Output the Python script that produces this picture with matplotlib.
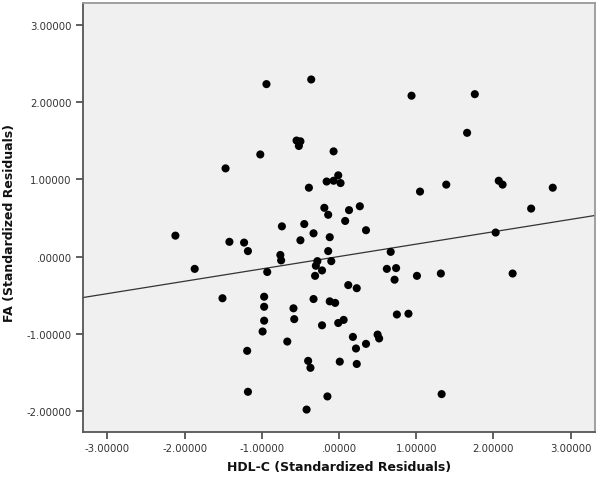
import numpy as np
import matplotlib
matplotlib.use('Agg')
import matplotlib.pyplot as plt

# standardized residuals
hdl_c = [-0.94, -0.36, -0.55, -0.50, -0.52, -1.02, -1.47, -0.07, -0.39, -0.16,
         -0.07, -0.01, 0.02, -0.19, -0.14, 0.94, 1.76, 1.66, 1.05, 1.39,
         2.07, 2.12, 2.77, 2.49, 0.13, 0.27, 0.08, 0.35, -2.12, -1.87,
         -1.42, -1.23, -1.18, -1.51, -0.74, -0.76, -0.75, -0.93, -0.97, -0.97,
         -0.97, -0.99, -1.19, -1.18, -0.67, -0.59, -0.58, -0.45, -0.50, -0.33,
         -0.28, -0.30, -0.22, -0.31, -0.33, -0.22, -0.40, -0.37, -0.42, -0.15,
         -0.12, -0.14, -0.10, -0.12, -0.05, -0.01, 0.06, 0.01, 0.67, 0.62,
         0.74, 0.72, 1.01, 1.32, 2.25, 2.03, 0.12, 0.23, 0.75, 0.90,
         0.18, 0.22, 0.35, 0.50, 0.52, 0.23, 1.33]
fa = [2.23, 2.29, 1.50, 1.49, 1.43, 1.32, 1.14, 1.36, 0.89, 0.97,
      0.98, 1.05, 0.95, 0.63, 0.54, 2.08, 2.10, 1.60, 0.84, 0.93,
      0.98, 0.93, 0.89, 0.62, 0.60, 0.65, 0.46, 0.34, 0.27, -0.16,
      0.19, 0.18, 0.07, -0.54, 0.39, 0.02, -0.05, -0.20, -0.52, -0.65,
      -0.83, -0.97, -1.22, -1.75, -1.10, -0.67, -0.81, 0.42, 0.21, 0.30,
      -0.06, -0.12, -0.18, -0.25, -0.55, -0.89, -1.35, -1.44, -1.98, -1.81,
      0.25, 0.07, -0.06, -0.58, -0.60, -0.86, -0.82, -1.36, 0.06, -0.16,
      -0.15, -0.30, -0.25, -0.22, -0.22, 0.31, -0.37, -0.41, -0.75, -0.74,
      -1.04, -1.19, -1.13, -1.01, -1.06, -1.39, -1.78]

# fit line as shown in the chart
fit_intercept = 0.0
fit_slope = 0.16

ticks = [-3, -2, -1, 0, 1, 2, 3]
xlim = (-3.32, 3.32)
ylim = (-2.27, 3.28)


def fmt(v):
    """SPSS style labels: .00000 for zero"""
    s = '%.5f' % v
    if s.startswith('0.'):
        s = s[1:]
    return s


fig = plt.figure(figsize=(6.0, 4.81), dpi=100)
ax = fig.add_axes([0.138, 0.0998, 0.854, 0.892])
ax.set_facecolor('#f0f0f0')

ax.scatter(hdl_c, fa, s=34, c='black', edgecolors='none', zorder=3)

xx = np.array(xlim)
ax.plot(xx, fit_intercept + fit_slope * xx, color='#333333', lw=0.9, zorder=2)

ax.set_xlim(*xlim)
ax.set_ylim(*ylim)
ax.set_xticks(ticks)
ax.set_yticks([t for t in ticks if t >= -2])
ax.set_xticklabels([fmt(t) for t in ticks])
ax.set_yticklabels([fmt(t) for t in ticks if t >= -2])
ax.tick_params(axis='both', direction='out', length=5, width=1.2,
               color='#444444', labelcolor='#333333', labelsize=7.3, pad=3)

for side in ['left', 'bottom']:
    ax.spines[side].set_color('#555555')
    ax.spines[side].set_linewidth(1.3)
for side in ['top', 'right']:
    ax.spines[side].set_color('#999999')
    ax.spines[side].set_linewidth(1.3)

ax.set_xlabel('HDL-C (Standardized Residuals)', fontsize=9, fontweight='bold',
              color='#111111')
ax.set_ylabel('FA (Standardized Residuals)', fontsize=9, fontweight='bold',
              color='#111111')
# label centres in axes coords (x label at ~467px, y label at ~10px)
ax.xaxis.set_label_coords(0.5, (433 - 467) / 429.0)
ax.yaxis.set_label_coords((10 - 83) / 512.0, 0.49)
ax.xaxis.label.set_va('center')
ax.yaxis.label.set_va('center')

fig.savefig('out.png', dpi=100)
